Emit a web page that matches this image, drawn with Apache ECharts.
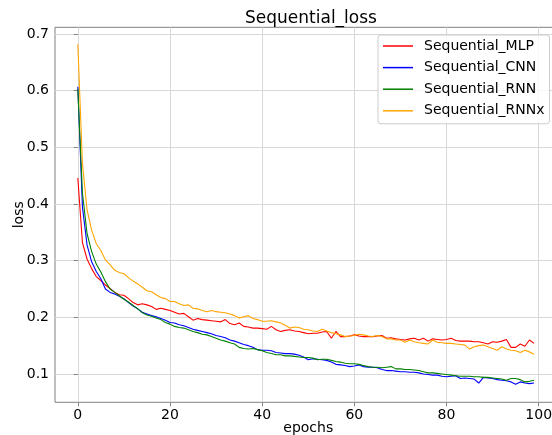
<!DOCTYPE html>
<html>
<head>
<meta charset="utf-8">
<script src="https://cdn.jsdelivr.net/npm/echarts@6/dist/echarts.min.js"></script>
<style>html,body{margin:0;padding:0;background:#fff}#c{width:552px;height:435px}</style>
</head>
<body>
<div id="c"></div>
<script>
const seriesNames = ['Sequential_MLP', 'Sequential_CNN', 'Sequential_RNN', 'Sequential_RNNx'];
const xTicks = [0, 20, 40, 60, 80, 100];
const yTicks = [0.1, 0.2, 0.3, 0.4, 0.5, 0.6, 0.7];

const mlp = [0.446,0.332,0.303,0.286,0.272,0.265,0.257,0.251,0.244,0.240,
0.239,0.233,0.226,0.222,0.224,0.222,0.219,0.214,0.216,0.214,
0.212,0.209,0.206,0.207,0.201,0.195,0.198,0.196,0.195,0.194,
0.193,0.192,0.196,0.189,0.187,0.190,0.184,0.183,0.181,0.181,
0.180,0.179,0.184,0.178,0.175,0.177,0.178,0.176,0.175,0.173,
0.171,0.172,0.172,0.174,0.175,0.163,0.175,0.166,0.166,0.167,
0.169,0.167,0.166,0.166,0.166,0.167,0.168,0.163,0.164,0.162,
0.161,0.160,0.162,0.163,0.160,0.163,0.158,0.162,0.161,0.160,
0.161,0.163,0.159,0.158,0.158,0.158,0.157,0.157,0.155,0.153,
0.157,0.156,0.158,0.161,0.147,0.147,0.153,0.149,0.160,0.154];

const cnn = [0.607,0.395,0.328,0.298,0.281,0.268,0.250,0.244,0.241,0.237,
0.233,0.226,0.220,0.215,0.209,0.206,0.203,0.201,0.198,0.195,
0.191,0.190,0.187,0.185,0.182,0.179,0.177,0.175,0.173,0.171,
0.168,0.166,0.164,0.160,0.158,0.155,0.152,0.150,0.147,0.143,
0.142,0.142,0.141,0.138,0.137,0.136,0.136,0.135,0.133,0.130,
0.125,0.127,0.126,0.125,0.124,0.121,0.117,0.116,0.115,0.113,
0.114,0.116,0.113,0.112,0.112,0.111,0.108,0.106,0.106,0.105,
0.104,0.104,0.103,0.103,0.102,0.100,0.099,0.098,0.098,0.096,
0.095,0.096,0.097,0.092,0.093,0.092,0.091,0.084,0.094,0.093,
0.092,0.090,0.089,0.088,0.086,0.082,0.086,0.084,0.083,0.084];

const rnn = [0.603,0.420,0.348,0.316,0.294,0.280,0.263,0.250,0.244,0.238,
0.232,0.227,0.221,0.215,0.208,0.204,0.202,0.199,0.196,0.191,
0.188,0.184,0.182,0.181,0.178,0.175,0.173,0.170,0.169,0.166,
0.163,0.160,0.158,0.155,0.153,0.147,0.145,0.144,0.145,0.143,
0.141,0.138,0.136,0.134,0.134,0.132,0.132,0.131,0.130,0.129,
0.129,0.128,0.125,0.126,0.126,0.124,0.122,0.121,0.119,0.118,
0.118,0.117,0.115,0.113,0.112,0.112,0.111,0.112,0.113,0.109,
0.109,0.108,0.108,0.107,0.106,0.104,0.102,0.102,0.101,0.100,
0.099,0.098,0.097,0.096,0.096,0.096,0.095,0.095,0.094,0.094,
0.093,0.092,0.091,0.089,0.092,0.092,0.090,0.086,0.087,0.089];

const rnnx = [0.682,0.472,0.390,0.354,0.330,0.318,0.301,0.293,0.283,0.279,
0.277,0.270,0.264,0.259,0.253,0.247,0.245,0.240,0.235,0.233,
0.228,0.228,0.224,0.221,0.222,0.216,0.215,0.212,0.210,0.212,
0.210,0.209,0.208,0.206,0.203,0.199,0.201,0.203,0.198,0.196,
0.193,0.193,0.194,0.192,0.190,0.186,0.181,0.183,0.182,0.179,
0.178,0.176,0.175,0.179,0.176,0.173,0.171,0.169,0.166,0.167,
0.168,0.170,0.169,0.167,0.166,0.168,0.166,0.162,0.162,0.160,
0.160,0.156,0.160,0.157,0.155,0.154,0.153,0.160,0.156,0.155,
0.154,0.154,0.153,0.152,0.151,0.144,0.148,0.150,0.151,0.148,
0.145,0.142,0.148,0.144,0.142,0.141,0.138,0.142,0.139,0.135];

const colors = ['#ff0000', '#0000ff', '#008000', '#ffa500'];
const values = [mlp, cnn, rnn, rnnx];
const FONT = 'DejaVu Sans';
const SPINE = '#808080';

const chart = echarts.init(document.getElementById('c'), null, {renderer: 'canvas'});
chart.setOption({
  animation: false,
  backgroundColor: '#ffffff',
  textStyle: {fontFamily: FONT},
  title: {
    text: 'Sequential_loss',
    left: 306, top: 5, textAlign: 'center',
    textStyle: {fontFamily: FONT, fontSize: 17, fontWeight: 'normal', color: '#000'}
  },
  grid: {
    left: 55, right: -9.5, top: 27.3, bottom: 32.7,
    show: true, borderColor: SPINE, borderWidth: 1,
    containLabel: false, outerBoundsMode: 'none'
  },
  legend: {
    orient: 'vertical', left: 378, top: 35,
    data: seriesNames,
    icon: 'rect', itemWidth: 30, itemHeight: 1.5, itemGap: 5.6,
    padding: [3, 5, 5, 5],
    backgroundColor: 'rgba(255,255,255,0.8)',
    borderColor: '#cccccc', borderWidth: 1, borderRadius: 3,
    textStyle: {fontFamily: FONT, fontSize: 14, color: '#000', lineHeight: 16, padding: [0, 0, 0, 6]}
  },
  xAxis: {
    type: 'value', min: -4.95, max: 104.95,
    name: 'epochs', nameLocation: 'middle', nameGap: 19, nameMoveOverlap: false,
    nameTextStyle: {fontFamily: FONT, fontSize: 14, color: '#000'},
    axisLine: {show: false},
    axisTick: {show: true, length: 4, inside: false, lineStyle: {color: SPINE}, customValues: xTicks},
    axisLabel: {fontFamily: FONT, fontSize: 14, color: '#000', margin: 6, customValues: xTicks},
    splitLine: {show: true, lineStyle: {color: '#d8d8d8', width: 1}}
  },
  yAxis: {
    type: 'value', min: 0.05, max: 0.712,
    name: 'loss', nameLocation: 'middle', nameGap: 29, nameMoveOverlap: false,
    nameTextStyle: {fontFamily: FONT, fontSize: 14, color: '#000'},
    axisLine: {show: false},
    axisTick: {show: true, length: 4, inside: false, lineStyle: {color: SPINE}, customValues: yTicks},
    axisLabel: {fontFamily: FONT, fontSize: 14, color: '#000', margin: 6, customValues: yTicks,
      formatter: v => v.toFixed(1)},
    splitLine: {show: true, lineStyle: {color: '#d8d8d8', width: 1}}
  },
  series: seriesNames.map((n, k) => ({
    name: n, type: 'line', showSymbol: false, symbol: 'none',
    data: values[k].map((v, i) => [i, v]),
    lineStyle: {color: colors[k], width: 1.1},
    itemStyle: {color: colors[k]},
    z: 2 + k
  }))
});
</script>
</body>
</html>
